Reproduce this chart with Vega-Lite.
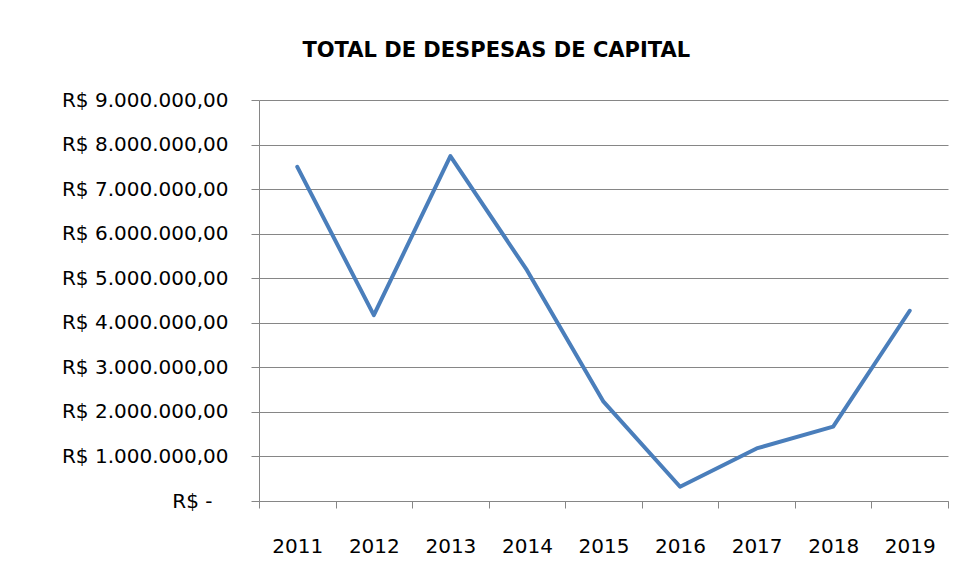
{
  "$schema": "https://vega.github.io/schema/vega-lite/v6.json",
  "width": 689,
  "height": 401,
  "padding": {"left": 20, "top": 40, "right": 16, "bottom": 10},
  "background": "white",
  "title": {
    "text": "TOTAL DE DESPESAS DE CAPITAL",
    "frame": "bounds",
    "anchor": "middle",
    "font": "DejaVu Sans",
    "fontSize": 21,
    "fontWeight": "bold",
    "color": "#000000",
    "offset": 29,
    "dx": 12
  },
  "data": {
    "values": [
      {"ano": "2011", "valor": 7500000},
      {"ano": "2012", "valor": 4170000},
      {"ano": "2013", "valor": 7740000},
      {"ano": "2014", "valor": 5180000},
      {"ano": "2015", "valor": 2230000},
      {"ano": "2016", "valor": 320000},
      {"ano": "2017", "valor": 1180000},
      {"ano": "2018", "valor": 1670000},
      {"ano": "2019", "valor": 4270000}
    ]
  },
  "mark": {"type": "line", "color": "#4A7EBB", "strokeWidth": 4, "strokeJoin": "round", "strokeCap": "round"},
  "encoding": {
    "x": {
      "field": "ano",
      "type": "ordinal",
      "bandPosition": 0.5,
      "scale": {"type": "band", "paddingInner": 0, "paddingOuter": 0},
      "axis": {
        "title": null,
        "labelAngle": 0,
        "tickBand": "extent",
        "tickSize": 7,
        "tickColor": "#868686",
        "domainColor": "#868686",
        "labelPadding": 28,
        "labelFont": "DejaVu Sans",
        "labelFontSize": 20,
        "labelColor": "#000000",
        "grid": false,
        "minExtent": 60,
        "maxExtent": 60
      }
    },
    "y": {
      "field": "valor",
      "type": "quantitative",
      "scale": {"domain": [0, 9000000], "nice": false},
      "axis": {
        "title": null,
        "values": [0, 1000000, 2000000, 3000000, 4000000, 5000000, 6000000, 7000000, 8000000, 9000000],
        "labelExpr": "datum.value == 0 ? 'R$ -' : format(datum.value, '$,.2f')",
        "tickSize": 8,
        "tickColor": "#868686",
        "domainColor": "#868686",
        "gridColor": "#868686",
        "gridWidth": 1,
        "labelPadding": {"condition": {"test": "datum.value == 0", "value": 39}, "value": 23},
        "labelFont": "DejaVu Sans",
        "labelFontSize": 20,
        "labelColor": "#000000",
        "minExtent": 239,
        "maxExtent": 239
      }
    }
  },
  "config": {
    "view": {"stroke": null},
    "locale": {
      "number": {"decimal": ",", "thousands": ".", "grouping": [3], "currency": ["R$ ", ""]}
    }
  }
}
